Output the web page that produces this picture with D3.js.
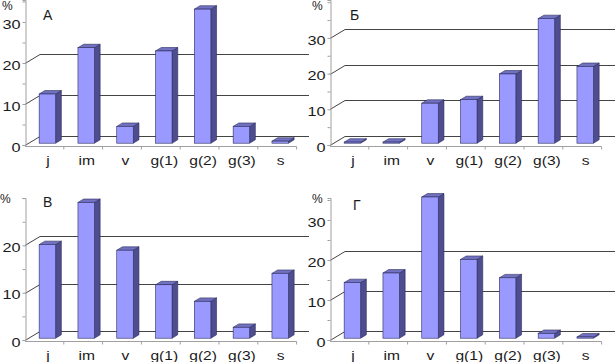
<!DOCTYPE html>
<html>
<head>
<meta charset="utf-8">
<script src="https://cdn.jsdelivr.net/npm/d3@7"></script>
<style>
  body { margin: 0; background: #fff; }
  text { font-family: "Liberation Sans", Arial, sans-serif; fill: #1a1a1a; }
</style>
</head>
<body>
<svg width="615" height="362"></svg>
<script>
// categories on the x axis (same for all four panels)
var categories = ["j", "im", "v", "g(1)", "g(2)", "g(3)", "s"];

// panel titles
var titles = ["А", "Б", "В", "Г"];

// values, %
var valuesA = [12, 23.3, 4.1, 22.5, 32.7, 4.1, 0.5];
var valuesB = [0.3, 0.3, 11.2, 12.2, 19.4, 34.9, 21.5];
var valuesV = [19.8, 28.7, 18.6, 11.3, 7.8, 2.3, 13.7];
var valuesG = [13.9, 16.3, 35.3, 19.7, 15.1, 1.2, 0.3];

// y tick labels shown and gridlines drawn on the back wall
var yLabelsA = [0, 10, 20, 30], gridA = [0, 10, 20];
var yLabelsB = [0, 10, 20, 30], gridB = [0, 10, 20, 30];
var yLabelsV = [0, 10, 20],     gridV = [0, 10, 20];
var yLabelsG = [0, 10, 20, 30], gridG = [0, 10, 20];

//layout of each panel
var panels = [
  {title: titles[0], values: valuesA, labels: yLabelsA, grid: gridA, ox: 25,  y0: 145, yTop: 0,   ppu: 4.1,  right: 309, pct: [2, 10],   tpos: [43, 20]},
  {title: titles[1], values: valuesB, labels: yLabelsB, grid: gridB, ox: 330, y0: 145, yTop: 0,   ppu: 3.57, right: 615, pct: [312, 10], tpos: [350, 20]},
  {title: titles[2], values: valuesV, labels: yLabelsV, grid: gridV, ox: 25,  y0: 340, yTop: 198, ppu: 4.73, right: 309, pct: [0, 203],  tpos: [43, 207]},
  {title: titles[3], values: valuesG, labels: yLabelsG, grid: gridG, ox: 330, y0: 340, yTop: 198, ppu: 4.0,  right: 615, pct: [312, 203], tpos: [353, 210]}
];

var bandW = 38.8, barW = 16.5;
var DX = 15, DY = -9;        // depth of the floor / side wall
var T1 = 0.2, T2 = 0.58;     // bar front and back planes (fraction of depth)

var svg = d3.select("svg");

panels.forEach(function(p) {
  var g = svg.append("g");

  var ymax = (p.y0 - p.yTop) / p.ppu;
  var y = d3.scaleLinear().domain([0, ymax]).range([p.y0, p.yTop]);
  var x = d3.scaleBand().domain(categories).range([p.ox, p.ox + bandW * categories.length]);

  //gridlines on side wall + back wall
  p.grid.forEach(function(v) {
    var yy = Math.round(y(v)) + 0.5;
    g.append("path")
      .attr("d", "M" + p.ox + "," + yy + "L" + (p.ox + DX) + "," + (yy + DY) +
                 "L" + Math.min(p.right, x.range()[1] + DX) + "," + (yy + DY))
      .attr("fill", "none")
      .attr("stroke", "#444")
      .attr("stroke-width", 1);
  });

  //y axis
  var yAxis = d3.axisLeft(y)
    .tickValues(d3.range(0, ymax + 0.01, 5))
    .tickSize(3)
    .tickPadding(1)
    .tickFormat(function(d) { return p.labels.indexOf(d) >= 0 ? d : ""; });
  var ya = g.append("g")
    .attr("transform", "translate(" + (p.ox + 0.5) + ",0)")
    .call(yAxis);
  ya.select(".domain").attr("stroke", "#a0a0a0");
  ya.selectAll(".tick line").attr("stroke", "#a0a0a0");
  // stretch digits horizontally like the original
  ya.selectAll(".tick text")
    .attr("font-size", 13)
    .attr("font-family", "Liberation Sans, Arial, sans-serif")
    .attr("fill", "#1a1a1a")
    .attr("transform", "translate(-5,2) scale(1.25,1) translate(4,0)");

  //x axis: front floor line with ticks at category boundaries
  var xa = g.append("g");
  var yl = p.y0 + 1.5;
  xa.append("line")
    .attr("x1", x.range()[0]).attr("x2", x.range()[1])
    .attr("y1", yl).attr("y2", yl)
    .attr("stroke", "#a0a0a0");
  xa.selectAll(".bt")
    .data(categories.slice(1).concat(["end"]))
    .enter().append("line")
    .attr("x1", function(d) { return d === "end" ? x.range()[1] : x(d); })
    .attr("x2", function(d) { return d === "end" ? x.range()[1] : x(d); })
    .attr("y1", yl).attr("y2", yl + 3)
    .attr("stroke", "#a0a0a0");
  xa.selectAll(".cl")
    .data(categories)
    .enter().append("text")
    .attr("transform", function(d) {
      return "translate(" + (x(d) + x.bandwidth() / 2 + 3.5) + "," + (p.y0 + 20) + ") scale(1.2,1)";
    })
    .attr("text-anchor", "middle")
    .attr("font-size", 13)
    .text(function(d) { return d; });

  //bars
  var ddx = (T2 - T1) * DX, ddy = (T2 - T1) * DY;
  var bars = g.selectAll(".bar")
    .data(categories.map(function(c, i) { return {c: c, v: p.values[i]}; }))
    .enter().append("g");

  bars.each(function(d) {
    var b = d3.select(this);
    var x0 = x(d.c) + (x.bandwidth() - barW) / 2 + T1 * DX;
    var x1 = x0 + barW;
    var yt = y(d.v) + T1 * DY;
    var yb = y(0) + T1 * DY;
    b.append("path")
      .attr("d", "M" + x1 + "," + yt + "L" + (x1 + ddx) + "," + (yt + ddy) +
                 "L" + (x1 + ddx) + "," + (yb + ddy) + "L" + x1 + "," + yb + "Z")
      .attr("fill", "#4d4d8f").attr("stroke", "#2c2c5c").attr("stroke-width", 0.6);
    b.append("path")
      .attr("d", "M" + x0 + "," + yt + "L" + x1 + "," + yt + "L" + (x1 + ddx) + "," + (yt + ddy) +
                 "L" + (x0 + ddx) + "," + (yt + ddy) + "Z")
      .attr("fill", "#7272c2").attr("stroke", "#2c2c5c").attr("stroke-width", 0.6);
    b.append("rect")
      .attr("x", x0).attr("y", yt)
      .attr("width", barW).attr("height", yb - yt)
      .attr("fill", "#9999ff").attr("stroke", "#2c2c5c").attr("stroke-width", 0.6);
  });

  //title and unit sign
  g.append("text")
    .attr("x", p.tpos[0]).attr("y", p.tpos[1])
    .attr("font-size", 14)
    .text(p.title);
  g.append("text")
    .attr("x", p.pct[0]).attr("y", p.pct[1])
    .attr("font-size", 12)
    .text("%");
});
</script>
</body>
</html>
